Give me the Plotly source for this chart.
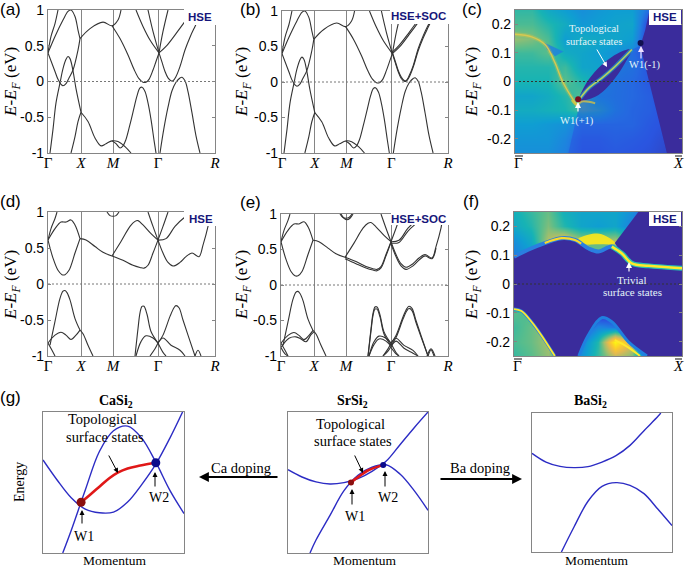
import plotly.graph_objects as go

W, H = 685, 569

# Bands: (k, E). k runs 0..167 along Gamma-X-M-Gamma-R
k_ticks = [0, 33, 65, 110, 167]
k_labels = ["Γ", "<i>X</i>", "<i>M</i>", "Γ", "<i>R</i>"]
e_ticks = [-1, -0.5, 0, 0.5, 1]
e_labels = ["-1", "-0.5", "0", "0.5", "1"]

bands_a = [
    ([0, 3, 7, 10], [.40, .63, .81, 1.0]),
    ([0, 7, 15, 20, 23, 27, 30, 32], [.40, .63, .86, .98, 1.0, .91, .72, .60]),
    ([2, 5, 8, 12, 15, 18, 20, 22, 25, 28, 33], [-1, -.67, -.30, -.02, .18, .31, .35, .32, .15, -.10, -.43]),
    ([23, 27, 30, 33], [-1, -.77, -.56, -.43]),
    ([33, 40, 47, 53, 58, 64, 70, 77, 83], [-.43, -.56, -.79, -.90, -.87, -.83, -.84, -.91, -1]),
    ([64, 68, 72, 75, 78, 82, 86, 89, 92, 94, 97, 100, 103, 106, 108],
     [-.83, -.87, -.93, -.90, -.81, -.60, -.37, -.20, -.09, -.08, -.14, -.30, -.53, -.82, -1]),
    ([112, 116, 120, 124, 128, 132, 134, 137, 140, 144, 148, 152],
     [-1, -.65, -.36, -.13, -.01, .05, .06, .01, -.14, -.44, -.76, -1]),
    ([0, 7, 10, 13, 15, 18, 21, 25, 30, 32], [.40, .14, .03, -.04, -.06, -.03, .05, .16, .44, .60]),
    ([32, 42, 55, 64, 70, 73], [.60, .74, .83, .78, .86, 1.0]),
    ([64, 72, 80, 86, 91, 95, 98, 101, 105, 108, 111], [.78, .60, .37, .17, .04, -.01, -.01, .03, .16, .28, .40]),
    ([111, 114, 117, 120, 123, 125, 128, 132, 137, 142, 147, 155],
     [.40, .27, .14, .05, .01, .01, .07, .21, .44, .62, .77, 1.0]),
    ([88, 95, 102, 111], [1, .77, .58, .40]),
    ([111, 118, 128, 137, 145], [.40, .49, .67, .84, 1.0]),
    ([100, 105, 111], [1, .70, .40]),
    ([111, 115, 120], [.40, .70, 1.0]),
]
# extra split bands with SOC, panel b
split_b = [
    ([111, 114, 117, 120, 123, 125, 128, 132, 137, 142, 147, 155],
     [.42, .29, .16, .07, .02, .02, .09, .23, .47, .65, .80, 1.0]),
    ([111, 118, 128, 137, 145], [.42, .52, .70, .87, 1.0]),
]

bands_d = [
    ([0, 3, 7, 9], [.61, .77, .91, 1.0]),
    ([0, 7, 13, 18, 23, 27, 32], [.61, .77, .86, .86, .89, .82, .63]),
    ([0, 5, 10, 14, 17, 21, 27, 32], [.61, .36, .19, .13, .13, .19, .43, .63]),
    ([32, 38, 47, 55, 64], [.63, .61, .52, .44, .39]),
    ([64, 75, 85, 92, 96, 100, 105, 110], [.39, .33, .26, .23, .22, .26, .43, .61]),
    ([64, 73, 82, 87, 90, 95, 103, 110], [.39, .59, .80, .87, .88, .82, .70, .61]),
    ([100, 105, 110], [1, .80, .61]),
    ([110, 115, 120], [.61, .80, 1.0]),
    ([110, 118, 127, 137, 145], [.61, .63, .80, .93, 1.0]),
    ([110, 115, 120, 125, 132, 138, 144, 151, 155, 160, 162, 164],
     [.61, .43, .30, .25, .30, .38, .43, .38, .54, .80, .96, 1.0]),
    ([59, 62, 65, 68, 71], [1, .95, .94, .95, 1]),
    ([0, 7, 13, 18, 23, 28, 32], [-.82, -.71, -.67, -.71, -.77, -.71, -.64]),
    ([32, 35, 40, 45], [-.64, -.69, -.85, -1]),
    ([2, 7, 12, 15, 17, 19, 22, 27, 32], [-.85, -.52, -.20, -.10, -.09, -.12, -.22, -.48, -.64]),
    ([0, 4, 7], [-.82, -.92, -1]),
    ([87, 90, 92, 94, 96, 99, 103, 110], [-1, -.62, -.40, -.31, -.31, -.42, -.66, -.82]),
    ([88, 93, 98, 105, 110], [-1, -.80, -.72, -.75, -.82]),
    ([102, 107, 110], [-1, -.90, -.82]),
    ([110, 115, 122, 126, 128, 131, 135, 140, 147], [-.82, -.71, -.45, -.33, -.30, -.33, -.50, -.71, -1]),
    ([110, 115, 123, 132, 137], [-.82, -.75, -.85, -.92, -1]),
    ([110, 115, 118], [-.82, -.95, -1]),
    ([147, 150, 153], [-1, -.92, -1]),
]
# extra split bands with SOC, panel e
split_e = [
    ([0, 8, 15, 20, 25, 30, 33], [-.88, -.75, -.73, -.76, -.80, -.70, -.66]),
    ([64, 75, 85, 92, 96, 100, 105, 110], [.37, .30, .24, .21, .20, .24, .41, .60]),
    ([110, 115, 120, 125, 132, 138, 144, 151, 155], [.58, .40, .27, .22, .27, .35, .41, .37, .52]),
    ([110, 118, 127, 137, 145], [.59, .60, .76, .89, 1.0]),
    ([87, 90, 92, 94, 96, 99, 103, 110], [-1, -.65, -.43, -.34, -.34, -.45, -.69, -.85]),
    ([88, 93, 98, 105, 110], [-1, -.84, -.76, -.79, -.87]),
    ([110, 115, 122, 126, 128, 131, 135, 140, 147], [-.85, -.74, -.48, -.36, -.33, -.36, -.53, -.73, -1]),
    ([110, 115, 123, 132, 137], [-.87, -.79, -.89, -.96, -1]),
    ([110, 115, 118], [-.88, -.97, -1]),
    ([102, 107, 110], [-1, -.93, -.87]),
    ([0, 4, 7], [-.88, -.97, -1]),
    ([146, 150, 154], [-1, -.90, -1]),
    ([60, 63, 66, 69, 72], [1, .94, .92, .94, 1]),
]

# Surface spectra, coarse intensity
surf_k = [0, .1, .2, .3, .4, .5, .6, .7, .8, .9, 1]
surf_e = [-.25, -.2, -.15, -.1, -.05, 0, .05, .1, .15, .2, .25]
z_c = [
    [.25, .25, .25, .20, .10, .10, .12, .10, .08, .03, 0],
    [.27, .27, .27, .22, .12, .12, .15, .13, .10, .05, 0],
    [.30, .30, .28, .26, .18, .18, .18, .18, .12, .08, 0],
    [.36, .36, .38, .40, .48, .42, .26, .18, .15, .08, 0],
    [.33, .33, .36, .42, .50, .28, .24, .20, .15, .05, 0],
    [.40, .40, .40, .50, .42, .33, .25, .20, .12, .05, 0],
    [.42, .42, .42, .46, .33, .32, .30, .25, .10, 0, 0],
    [.46, .46, .50, .36, .33, .30, .26, .22, .05, 0, 0],
    [.58, .55, .48, .30, .36, .34, .33, .30, .02, 0, 0],
    [.48, .48, .42, .36, .28, .30, .32, .33, .05, 0, 0],
    [.44, .44, .35, .30, .25, .28, .30, .30, .15, 0, 0],
]
z_f = [
    [.45, .50, .58, .40, .25, .45, .65, .55, .05, 0, 0],
    [.48, .52, .60, .40, .20, .42, .95, .70, .10, 0, 0],
    [.46, .52, .58, .10, .05, .22, .18, .05, 0, 0, 0],
    [.50, .48, 0, 0, 0, 0, 0, 0, 0, 0, 0],
    [0, 0, 0, 0, 0, 0, 0, 0, 0, 0, 0],
    [0, 0, 0, 0, 0, 0, 0, 0, 0, 0, 0],
    [0, 0, 0, 0, 0, 0, 0, 0, 0, 0, 0],
    [.20, .28, .50, .62, .55, .55, .55, .45, 0, 0, 0],
    [.25, .35, .62, .75, .60, .62, .62, .45, 0, 0, 0],
    [.35, .42, .55, .42, .33, .30, .33, .20, 0, 0, 0],
    [.38, .45, .52, .38, .33, .33, .33, .25, 0, 0, 0],
]

# Panel c features
c_dark_k = [.806, 1, 1, .91, .82, .78, .75, .78, .806]
c_dark_e = [.25, .25, -.25, -.25, -.04, .05, .124, .18, .25]
c_lens_k = [.39, .44, .52, .62, .70, .67, .60, .50, .39]
c_lens_e = [-.047, .006, .059, .10, .112, .076, .012, -.047, -.07]
c_state_k = [.39, .44, .52, .60, .70]
c_state_e = [-.059, -.024, .012, .053, .112]
c_ridge_k = [0, .1, .18, .24, .28, .33, .37]
c_ridge_e = [.165, .156, .129, .065, .006, -.047, -.082]
c_wedge_k = [.17, .29, .24, .19]
c_wedge_e = [.137, .105, .088, .112]
c_cone_k = [.32, .91, .82, .75, .70, .60, .39, .32]
c_cone_e = [-.25, -.25, -.04, .124, .112, .012, -.07, -.25]
c_lower_k = [.34, .37, .40, .48]
c_lower_e = [-.065, -.082, -.07, -.076]
w_plus = (.378, -.062)
w_minus = (.752, .135)

# Panel f features
f_top_k = [0, .084, .183, .283, .363, .442, .502, .582, .641, .701, .801, 1]
f_top_e = [.095, .119, .142, .159, .153, .124, .113, .13, .107, .072, .063, .055]
f_line_left_k = [.183, .283, .363, .40]
f_line_left_e = [.142, .159, .153, .14]
f_line_right_k = [.582, .641, .701, .801, 1]
f_line_right_e = [.13, .107, .072, .063, .055]
f_blob_k = [.382, .442, .522, .602, .552, .482, .442, .402]
f_blob_e = [.159, .171, .173, .142, .137, .138, .136, .145]
f_pocket_k = [.44, .56, .50, .47]
f_pocket_e = [.136, .136, .118, .118]
f_right_k = [.60, .67, .74, 1, 1, .801, .701, .641]
f_right_e = [.142, .194, .25, .25, .055, .063, .072, .107]
f_left_k = [0, .044, .104, .163, .243]
f_left_e = [-.087, -.094, -.131, -.178, -.25]
f_hump_k = [.386, .442, .522, .582, .681, .791]
f_hump_e = [-.25, -.178, -.117, -.131, -.201, -.25]
f_tail_k = [.60, .68, .75]
f_tail_e = [-.195, -.22, -.25]

# Panel g schematic bands
ca_a = ([0, .1, .2, .3, .4, .5, .6, .7, .8, .9, .99],
        [.66, .518, .392, .311, .285, .29, .361, .485, .63, .815, 1.0])
ca_b = ([.14, .2, .3, .4, .5, .6, .7, .8, .9, 1.0],
        [0, .16, .447, .72, .867, .90, .815, .644, .444, .28])
ca_red = ([.27, .33, .40, .47, .53, .60, .69, .80], [.36, .41, .47, .53, .57, .60, .62, .64])
ca_w1, ca_w2 = (.27, .36), (.80, .64)
sr_a = ([0, .1, .2, .3, .4, .5, .6, .7, .8, .9, 1],
        [.591, .539, .504, .489, .499, .527, .579, .65, .768, .887, 1])
sr_b = ([.157, .2, .3, .4, .5, .6, .7, .8, .9, 1], [0, .092, .267, .442, .551, .608, .626, .56, .444, .303])
sr_red = ([.45, .51, .57, .68], [.50, .545, .585, .625])
sr_w1, sr_w2 = (.45, .50), (.68, .625)
ba_a = ([0, .1, .2, .3, .4, .5, .6, .7, .8, .9, .92],
        [.71, .647, .616, .607, .614, .647, .693, .767, .873, .976, 1])
ba_b = ([.21, .3, .4, .5, .6, .7, .8, .9, 1], [0, .18, .365, .472, .499, .48, .42, .307, .19])

PARULA = [[0, "#3a2c9c"], [.1, "#2a55e0"], [.2, "#1f80e0"], [.3, "#0f9ed2"], [.4, "#17b3b4"],
          [.5, "#58bd8c"], [.6, "#a5be6b"], [.7, "#e1b952"], [.8, "#fbc92e"], [.9, "#fbe81a"], [1, "#ffff14"]]
DARK = "#3a2c9c"
SANS = "Liberation Sans"
SERIF = "Liberation Serif"
AXC = "#858585"

fig = go.Figure()
annots = []
shapes = []


def px(x):
    return x / W


def py(y):
    return 1 - y / H


def text(x, y, s, size=14, color="black", family=SERIF, angle=0):
    annots.append(dict(x=px(x), y=py(y), xref="paper", yref="paper", text=s, showarrow=False,
                       font=dict(size=size, color=color, family=family), textangle=angle,
                       xanchor="center", yanchor="middle"))


def arrow(x0, y0, x1, y1, color="black", width=1, size=1, head=2):
    annots.append(dict(x=px(x1), y=py(y1), xref="paper", yref="paper", text="", showarrow=True,
                       ax=x0 - x1, ay=y0 - y1, arrowcolor=color, arrowwidth=width,
                       arrowsize=size, arrowhead=head))


def rect(l, t, r, b, color="white"):
    shapes.append(dict(type="rect", xref="paper", yref="paper", x0=px(l), x1=px(r), y0=py(b), y1=py(t),
                       fillcolor=color, line=dict(width=0), layer="above"))


def panel(i, box, xr, yr, xticks, xlabels, yticks, ylabels, grid=True, ticks=True):
    l, r, t, b = box
    xkey = "xaxis" if i == 1 else f"xaxis{i}"
    ykey = "yaxis" if i == 1 else f"yaxis{i}"
    fig.update_layout(**{
        xkey: dict(domain=[px(l), px(r)], range=xr, anchor=f"y{i}" if i > 1 else "y", tickmode="array",
                   tickvals=xticks, ticktext=xlabels, showgrid=grid, gridcolor=AXC, gridwidth=1,
                   zeroline=False, showline=True, linecolor=AXC, linewidth=1.2, mirror=True, ticks="",
                   automargin=False, ticklabelstandoff=-4,
                   tickfont=dict(family=SERIF, size=15, color="black")),
        ykey: dict(domain=[py(b), py(t)], range=yr, anchor=f"x{i}" if i > 1 else "x", tickmode="array",
                   tickvals=yticks, ticktext=ylabels, showgrid=False, zeroline=False, showline=True,
                   linecolor=AXC, linewidth=1.2, mirror="ticks" if ticks else True,
                   ticks="inside" if ticks else "", ticklen=3, tickcolor=AXC, automargin=False,
                   tickfont=dict(family=SANS, size=14, color="black")),
    })


def line(i, x, y, color="#333333", width=1.1, dash=None, shape="spline", opacity=1):
    ref = "" if i == 1 else str(i)
    fig.add_trace(go.Scatter(x=x, y=y, mode="lines", xaxis="x" + ref, yaxis="y" + ref, opacity=opacity,
                             line=dict(color=color, width=width, dash=dash, shape=shape),
                             showlegend=False, hoverinfo="skip"))


def poly(i, x, y, color, opacity=1, shape="linear"):
    ref = "" if i == 1 else str(i)
    fig.add_trace(go.Scatter(x=x, y=y, mode="lines", xaxis="x" + ref, yaxis="y" + ref, fill="toself",
                             fillcolor=color, opacity=opacity, line=dict(width=0, shape=shape),
                             showlegend=False, hoverinfo="skip"))


def dot(i, p, color, size):
    ref = "" if i == 1 else str(i)
    fig.add_trace(go.Scatter(x=[p[0]], y=[p[1]], mode="markers", xaxis="x" + ref, yaxis="y" + ref,
                             marker=dict(color=color, size=size), showlegend=False, hoverinfo="skip"))


def heat(i, z):
    ref = "" if i == 1 else str(i)
    fig.add_trace(go.Heatmap(x=surf_k, y=surf_e, z=z, xaxis="x" + ref, yaxis="y" + ref, zmin=0, zmax=1,
                             colorscale=PARULA, zsmooth="best", showscale=False, hoverinfo="skip"))


# band structure panels
for i, box, bands, width in [
    (1, (48, 215, 10, 153), bands_a, 1.1),
    (2, (282, 448, 11, 153), bands_a + split_b, 1.1),
    (4, (48, 215, 212, 356), bands_d, 1.1),
    (5, (281, 448, 214, 356), bands_d + split_e, 1.1),
]:
    panel(i, box, [0, 167], [-1, 1], k_ticks, k_labels, e_ticks, e_labels)
    for kk, ee in bands:
        line(i, kk, ee, width=width)
    line(i, [0, 167], [0, 0], color="#777777", width=1, dash="2px,2px", shape="linear")

# panel c
s_ticks = [-.2, -.1, 0, .1, .2]
s_labels = ["-0.2", "-0.1", "0", "0.1", "0.2"]
bar_labels = ["Γ", "<i>X</i>"]
panel(3, (515, 682, 10, 153), [0, 1], [-.25, .25], [.02, .98], bar_labels, s_ticks, s_labels, grid=False)
heat(3, z_c)
poly(3, c_cone_k, c_cone_e, "#2a55e0", .55)
poly(3, c_dark_k, c_dark_e, DARK)
poly(3, c_wedge_k, c_wedge_e, "#1f80e0", .8)
poly(3, c_lens_k, c_lens_e, DARK, shape="spline")
line(3, c_ridge_k, c_ridge_e, color="#fbc92e", width=4, opacity=.25)
line(3, c_ridge_k, c_ridge_e, color="#d8c850", width=1.4)
line(3, c_lower_k, c_lower_e, color="#e8c838", width=2, opacity=.7)
line(3, c_state_k, c_state_e, color="#1f9ec8", width=4, opacity=.7)
line(3, c_state_k, c_state_e, color="#b8d060", width=1.6)
line(3, [0, 1], [0, 0], color="#333333", width=1, dash="2px,2px", shape="linear")
dot(3, w_plus, "#7a0f20", 6)
dot(3, w_minus, "#101050", 6)

# panel f
panel(6, (514, 682, 212, 356), [0, 1], [-.25, .25], [.02, .98], bar_labels, s_ticks, s_labels, grid=False)
heat(6, z_f)
poly(6, f_blob_k, f_blob_e, "#fbe81a", .9, shape="spline")
poly(6, f_pocket_k, f_pocket_e, "#58bd8c", .8, shape="spline")
poly(6, f_top_k + [1] + f_hump_k[::-1] + f_left_k[::-1], f_top_e + [-.25] + f_hump_e[::-1] + f_left_e[::-1], DARK)
poly(6, f_right_k, f_right_e, DARK)
line(6, f_top_k, f_top_e, color="#2a7fe0", width=4)
line(6, f_line_left_k, f_line_left_e, color="#fbd82a", width=2.2)
line(6, f_line_right_k, f_line_right_e, color="#25c0b0", width=5)
line(6, f_line_right_k, f_line_right_e, color="#ffe92a", width=2.5)
line(6, f_left_k, f_left_e, color="#2a7fe0", width=3)
line(6, f_left_k, f_left_e, color="#ffe92a", width=1.8)
line(6, f_hump_k, f_hump_e, color="#1f80e0", width=3)
line(6, f_tail_k, f_tail_e, color="#ffe92a", width=2)
line(6, [0, 1], [0, 0], color="#333333", width=1, dash="2px,2px", shape="linear")

# panels g
BLUE = "#2c2cc4"
RED = "#e01818"
for i, box, curves in [
    (7, (43, 184, 412, 553), [ca_a, ca_b]),
    (8, (288, 428, 412, 553), [sr_a, sr_b]),
    (9, (532, 672, 413, 552), [ba_a, ba_b]),
]:
    panel(i, box, [0, 1], [0, 1], [], [], [], [], grid=False, ticks=False)
    for xx, yy in curves:
        line(i, xx, yy, color=BLUE, width=1.4)
line(7, ca_red[0], ca_red[1], color=RED, width=2.6)
dot(7, ca_w1, "#8b0f0f", 9)
dot(7, ca_w2, "#0a0a8c", 9)
line(8, sr_red[0], sr_red[1], color=RED, width=2.6)
dot(8, sr_w1, "#8b0f0f", 6)
dot(8, sr_w2, "#0a0a8c", 6)

# panel letters
for x, y, s in [(10, 10, "(a)"), (250, 10, "(b)"), (472, 10, "(c)"), (10, 201, "(d)"),
                (250, 202, "(e)"), (471, 201, "(f)"), (10, 397, "(g)")]:
    text(x, y, s, size=17, family=SANS)

# y axis titles
ylab = "<i>E</i>-<i>E<sub>F</sub></i> (eV)"
for x, y in [(12, 82), (243, 82), (473, 82), (12, 285), (243, 285), (473, 285)]:
    text(x, y, ylab, size=17, angle=-90)

# method tags
NAVY = "#16167a"
for l, t, r, b in [(184, 9, 216, 25), (390, 10, 449, 24), (649, 10, 681, 25),
                   (184, 211, 216, 226), (391, 213, 449, 225), (649, 212, 681, 226)]:
    rect(l, t, r, b)
for x, y, s in [(200, 17, "HSE"), (418, 16, "HSE+SOC"), (665, 17, "HSE"),
                (201, 219, "HSE"), (418, 219, "HSE+SOC"), (665, 219, "HSE")]:
    text(x, y, f"<b>{s}</b>", size=11.5, color=NAVY, family=SANS)

# overbars of the surface labels
for l, r, y in [(515, 523, 156), (675, 682, 156), (514, 522, 359), (675, 682, 359)]:
    rect(l, y - 1, r, y + 1, color=AXC)

# panel c, f notes
LIGHT = "#e4f4f8"
text(594, 29, "Topological", size=10.5, color=LIGHT)
text(594, 41, "surface states", size=10.5, color=LIGHT)
arrow(596, 48, 607, 67, color="white", width=1)
text(644, 65, "W1(-1)", size=10.5, color=LIGHT)
arrow(641, 60, 641, 46, color="#f0e0ff", width=1.2)
text(577, 121, "W1(+1)", size=10.5, color=LIGHT)
arrow(578, 113, 578, 102, color="white", width=1.2)
text(632, 280, "Trivial", size=11, color=LIGHT)
text(632, 292, "surface states", size=11, color=LIGHT)
arrow(629, 273, 629, 262, color="white", width=1.2)

# panel g notes
for x, s in [(116, "CaSi"), (353, "SrSi"), (590, "BaSi")]:
    text(x, 401, f"<b>{s}<sub>2</sub></b>", size=14)
for x in [114, 364, 596]:
    text(x, 560.5, "Momentum", size=13.5)
text(19, 482, "Energy", size=14, angle=-90)

text(102, 419, "Topological", size=14.5)
text(105, 437, "surface states", size=14.5)
arrow(108, 454, 118, 473, width=1)
text(84, 536, "W1", size=14)
arrow(82, 525, 82, 510, width=1)
text(159, 497, "W2", size=14)
arrow(155, 488, 155, 472, width=1)

text(350, 424, "Topological", size=14.5)
text(353, 441, "surface states", size=14.5)
arrow(354, 454, 363, 473, width=1)
text(355, 516, "W1", size=14)
arrow(352, 506, 352, 489, width=1)
text(388, 497, "W2", size=14)
arrow(385, 488, 385, 471, width=1)

text(241, 468, "Ca doping", size=14.5)
arrow(279, 477, 199, 477, width=1.8, size=1.1)
text(480, 468, "Ba doping", size=14.5)
arrow(439, 479, 522, 479, width=1.8, size=1.1)

fig.update_layout(width=W, height=H, margin=dict(l=0, r=0, t=0, b=0), paper_bgcolor="white",
                  plot_bgcolor="white", showlegend=False, annotations=annots, shapes=shapes)
fig.write_html("out.html", config=dict(displayModeBar=False),
               post_script="document.body.style.margin='0';")
